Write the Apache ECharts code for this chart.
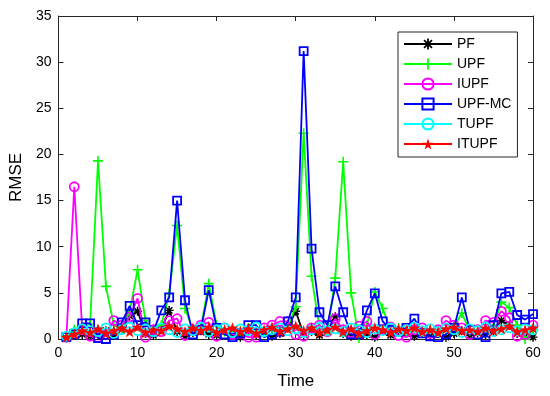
<!DOCTYPE html>
<html><head><meta charset="utf-8">
<script src="https://cdn.jsdelivr.net/npm/echarts@6/dist/echarts.min.js"></script>
<style>html,body{margin:0;padding:0;background:#fff}#c{width:550px;height:396px}</style>
</head><body><div id="c"></div>
<script>
const seriesNames = ['PF','UPF','IUPF','UPF-MC','TUPF','ITUPF'];
const xTicks = [0,10,20,30,40,50,60];
const yTicks = [0,5,10,15,20,25,30,35];
const PF = [0.1,0.8,0.5,0.3,0.6,0.9,0.4,1.0,2.5,3.0,0.6,0.4,1.0,3.1,0.8,0.3,0.7,0.9,0.5,0.4,0.8,0.6,0.2,0.9,0.5,0.7,0.3,0.6,1.2,3.0,0.5,0.8,0.4,0.9,2.4,0.6,0.3,0.7,0.5,0.2,0.8,0.4,0.9,0.6,0.3,0.7,0.5,0.8,0.2,0.6,0.9,0.4,0.7,0.5,0.8,2.0,1.5,0.6,0.3,0.2];
const UPF = [0.3,1.0,1.5,1.6,19.3,5.7,1.5,1.0,3.0,7.5,2.0,1.0,1.5,4.9,12.3,3.3,1.0,1.2,6.0,1.5,0.8,1.0,0.9,1.2,1.0,0.8,1.0,0.9,1.3,3.5,22.3,6.8,1.2,0.8,6.6,19.2,5.0,0.1,1.5,5.1,3.3,1.0,1.2,0.8,1.0,0.7,1.1,0.9,1.2,1.3,2.8,0.9,1.0,1.1,1.5,4.0,3.4,1.5,0.0,1.0];
const IUPF = [0.2,16.5,1.0,0.3,0.2,0.5,2.0,1.5,2.4,4.4,0.2,1.0,0.8,2.0,2.2,0.4,1.0,1.5,1.8,0.3,1.2,0.5,0.6,0.2,0.2,1.2,1.5,1.9,1.9,0.5,0.3,1.2,1.5,0.8,2.2,1.0,0.7,1.4,1.9,0.5,1.0,1.3,0.4,0.2,1.0,1.2,0.6,1.0,2.0,1.5,1.2,0.5,1.0,2.0,1.8,3.0,2.3,0.3,0.5,1.5];
const UPF_MC = [0.2,0.5,1.7,1.7,0.1,0.0,0.5,1.8,3.6,1.5,1.8,0.8,3.1,4.5,15.0,4.2,0.5,1.0,5.3,1.2,0.5,0.2,0.6,1.5,1.5,0.2,0.5,0.8,1.9,4.5,31.2,9.8,2.9,1.5,5.7,2.9,0.5,0.5,3.1,4.95,1.9,1.0,0.8,1.2,2.2,0.6,0.3,0.2,0.5,1.2,4.5,1.0,0.5,0.2,1.5,4.95,5.1,2.6,2.1,2.7];
const TUPF = [0.3,0.7,1.1,0.9,0.8,1.2,0.6,1.0,1.3,0.9,1.1,0.8,1.2,1.0,0.7,1.1,0.9,1.3,0.8,1.0,1.2,0.7,1.1,0.9,1.3,0.8,1.0,1.2,0.9,1.1,0.7,1.0,1.3,0.9,1.1,0.8,1.2,1.0,0.7,1.1,0.9,1.2,0.8,1.0,1.3,0.9,1.1,0.8,1.2,1.0,0.7,1.1,0.9,1.3,0.8,1.0,1.2,0.9,1.1,1.0];
const ITUPF = [0.2,0.5,0.9,0.7,1.1,0.6,0.9,1.2,0.8,1.3,0.7,1.0,0.9,1.4,1.1,0.8,1.2,0.9,1.3,0.7,1.0,1.2,0.8,1.1,0.6,1.0,1.3,0.8,1.1,1.4,0.9,1.2,0.7,1.0,1.3,0.8,1.1,0.6,0.9,1.2,1.0,0.7,1.1,0.9,1.2,0.8,1.0,0.7,1.1,1.3,0.9,1.0,0.8,1.2,0.9,1.1,1.4,0.8,1.0,1.2];

const allData = [PF, UPF, IUPF, UPF_MC, TUPF, ITUPF];
const colors = ['#000000','#00ff00','#ff00ff','#0000ff','#00ffff','#ff0000'];
const PLUS = 'path://M-0.8,-5H0.8V5H-0.8Z M-5,-0.8H5V0.8H-5Z';
const AST = 'path://M-0.8,-5H0.8V5H-0.8Z M-5,-0.8H5V0.8H-5Z M-2.97,-4.1L4.1,2.97L2.97,4.1L-4.1,-2.97Z M4.1,-2.97L-2.97,4.1L-4.1,2.97L2.97,-4.1Z';
const STAR = 'path://M0,-10L2.245,-3.09L9.51,-3.09L3.63,1.18L5.88,8.09L0,3.82L-5.88,8.09L-3.63,1.18L-9.51,-3.09L-2.245,-3.09Z';
const sym = [
  {symbol: AST, size: 9, hollow: false},
  {symbol: PLUS, size: 10, hollow: false},
  {symbol: 'circle', size: 9, hollow: true},
  {symbol: 'rect', size: 8, hollow: true},
  {symbol: 'circle', size: 9, hollow: true},
  {symbol: STAR, size: 12, hollow: false}
];
const FONT = 'Liberation Sans, Arial, sans-serif';

const series = seriesNames.map((name, i) => ({
  name: name,
  type: 'line',
  xAxisIndex: 0, yAxisIndex: 0,
  data: allData[i].map((v, k) => [k + 1, v]),
  symbol: sym[i].symbol,
  symbolSize: sym[i].size,
  symbolKeepAspect: true,
  showAllSymbol: true,
  lineStyle: {color: colors[i], width: 1.8},
  itemStyle: sym[i].hollow
    ? {color: 'rgba(255,255,255,0)', borderColor: colors[i], borderWidth: 1.8}
    : {color: colors[i], borderWidth: 0},
  emphasis: {disabled: true},
  z: 2 + i
}));

function axisCommon() {
  return {
    axisLine: {show: true, onZero: false, lineStyle: {color: '#262626', width: 1}},
    axisTick: {show: true, inside: true, length: 5, lineStyle: {color: '#262626'}},
    splitLine: {show: false}
  };
}

const chart = echarts.init(document.getElementById('c'), null, {renderer: 'canvas'});
chart.setOption({
  animation: false,
  backgroundColor: '#fff',
  grid: {left: 57, right: 17, top: 16, bottom: 57, containLabel: false},
  legend: {
    data: seriesNames,
    orient: 'vertical',
    left: 398, top: 32,
    itemWidth: 48, itemHeight: 14, itemGap: 6,
    padding: [5, 6, 6, 5],
    backgroundColor: '#fff',
    borderColor: '#262626', borderWidth: 1,
    textStyle: {fontFamily: FONT, fontSize: 14, color: '#000'}
  },
  xAxis: [
    Object.assign({type: 'value', min: xTicks[0], max: xTicks[xTicks.length-1], interval: 10, position: 'bottom',
      name: 'Time', nameLocation: 'middle', nameGap: 34,
      nameTextStyle: {fontFamily: FONT, fontSize: 17, color: '#000'},
      axisLabel: {fontFamily: FONT, fontSize: 14, color: '#000', margin: 7}}, axisCommon()),
    Object.assign({type: 'value', min: xTicks[0], max: xTicks[xTicks.length-1], interval: 10, position: 'top',
      axisLabel: {show: false}}, axisCommon())
  ],
  yAxis: [
    Object.assign({type: 'value', min: yTicks[0], max: yTicks[yTicks.length-1], interval: 5, position: 'left',
      name: 'RMSE', nameLocation: 'middle', nameGap: 29, nameRotate: 90,
      nameTextStyle: {fontFamily: FONT, fontSize: 17, color: '#000'},
      axisLabel: {fontFamily: FONT, fontSize: 14, color: '#000', margin: 7}}, axisCommon()),
    Object.assign({type: 'value', min: yTicks[0], max: yTicks[yTicks.length-1], interval: 5, position: 'right',
      axisLabel: {show: false}}, axisCommon())
  ],
  series: series
});
</script>
</body></html>
